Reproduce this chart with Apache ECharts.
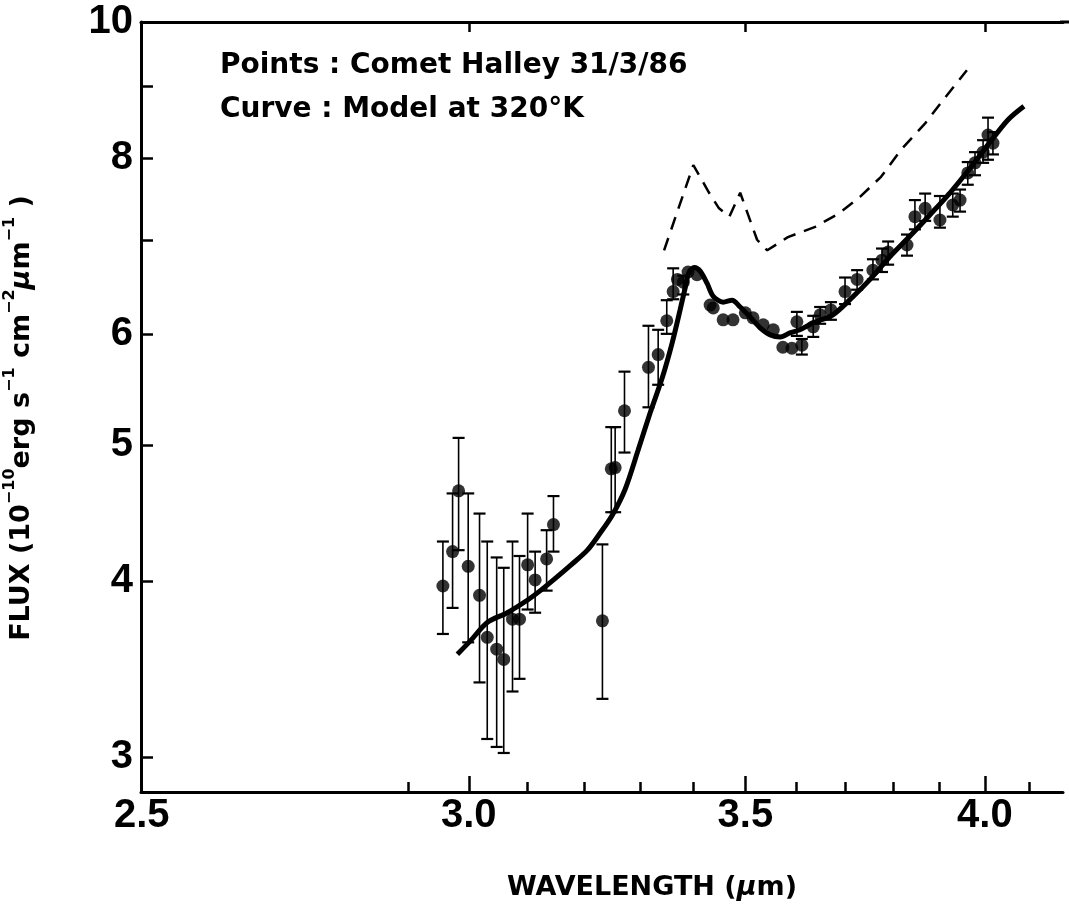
<!DOCTYPE html>
<html>
<head>
<meta charset="utf-8">
<title>Comet Halley 31/3/86</title>
<script src="https://cdn.jsdelivr.net/npm/echarts@6.0.0/dist/echarts.min.js"></script>
<style>
  html, body { margin: 0; padding: 0; background: #fff; }
  #chart { width: 1069px; height: 915px; }
</style>
</head>
<body>
<div id="chart"></div>
<script>
// observed points (wavelength in micron, flux in 1e-10 erg/s/cm2/um)
var ptWl   = [2.957, 2.973, 2.983, 2.999, 3.018, 3.031, 3.047, 3.059, 3.074, 3.086,
              3.100, 3.113, 3.133, 3.145, 3.232, 3.248, 3.255, 3.272, 3.316, 3.334,
              3.350, 3.362, 3.370, 3.381, 3.390, 3.407, 3.432, 3.438, 3.457, 3.476,
              3.500, 3.515, 3.535, 3.555, 3.574, 3.592, 3.612, 3.602, 3.635, 3.649,
              3.671, 3.700, 3.725, 3.758, 3.777, 3.790, 3.830, 3.847, 3.869, 3.901,
              3.929, 3.945, 3.962, 3.978, 3.996, 4.007, 4.018];
var ptFlux = [3.97, 4.20, 4.64, 4.10, 3.91, 3.65, 3.58, 3.52, 3.76, 3.76,
              4.11, 4.01, 4.15, 4.39, 3.75, 4.81, 4.82, 5.29, 5.68, 5.80,
              6.13, 6.43, 6.56, 6.53, 6.64, 6.61, 6.29, 6.26, 6.14, 6.14,
              6.21, 6.16, 6.09, 6.04, 5.87, 5.86, 5.89, 6.12, 6.07, 6.19,
              6.24, 6.43, 6.56, 6.66, 6.77, 6.86, 6.94, 7.27, 7.37, 7.23,
              7.41, 7.47, 7.81, 7.94, 8.08, 8.31, 8.20];
// error bar ends (null = no bar drawn)
var errLo  = [3.67, 3.83, 4.21, 3.62, 3.39, 3.09, 3.05, 3.02, 3.34, 3.41,
              3.82, 3.80, 3.94, 4.20, 3.30, 4.48, 4.48, 4.94, 5.32, 5.52,
              6.00, 6.35, null, 6.40, null, null, null, null, null, null,
              null, null, null, null, null, null, 5.80, 5.98, 5.97, 6.10,
              6.14, 6.30, 6.45, 6.56, 6.64, 6.72, 6.82, 7.12, 7.22, 7.14,
              7.27, 7.33, 7.66, 7.78, 7.94, 7.98, 8.05];
var errHi  = [4.27, 4.62, 5.06, 4.62, 4.47, 4.27, 4.16, 4.09, 4.27, 4.17,
              4.47, 4.20, 4.35, 4.60, 4.25, 5.15, 5.15, 5.64, 6.08, 6.04,
              6.34, 6.68, null, 6.60, null, null, null, null, null, null,
              null, null, null, null, null, null, 5.95, 6.22, 6.18, 6.27,
              6.32, 6.58, 6.66, 6.78, 6.90, 6.98, 7.06, 7.47, 7.55, 7.52,
              7.55, 7.60, 7.95, 8.08, 8.24, 8.55, 8.35];

// model at 320 K (solid curve)
var modelWl   = [2.981, 3.003, 3.031, 3.065, 3.100, 3.122, 3.145, 3.176, 3.205, 3.228,
                 3.250, 3.273, 3.297, 3.319, 3.342, 3.360, 3.375, 3.385, 3.392, 3.402,
                 3.413, 3.426, 3.438, 3.457, 3.474, 3.490, 3.509, 3.529, 3.549, 3.569,
                 3.588, 3.608, 3.635, 3.675, 3.717, 3.752, 3.794, 3.836, 3.879, 3.923,
                 3.967, 4.011, 4.052, 4.088];
var modelFlux = [3.55, 3.63, 3.74, 3.80, 3.88, 3.94, 4.01, 4.11, 4.21, 4.33,
                 4.46, 4.65, 4.96, 5.27, 5.59, 5.91, 6.24, 6.48, 6.64, 6.69,
                 6.65, 6.52, 6.38, 6.32, 6.34, 6.27, 6.17, 6.06, 5.99, 5.97,
                 6.01, 6.04, 6.11, 6.19, 6.38, 6.56, 6.81, 7.04, 7.29, 7.56,
                 7.87, 8.21, 8.52, 8.71];

// dashed curve
var dashWl   = [3.345, 3.400, 3.430, 3.449, 3.469, 3.490, 3.523, 3.543, 3.584, 3.639,
                3.688, 3.731, 3.775, 3.817, 3.869, 3.908, 3.960];
var dashFlux = [6.88, 7.91, 7.56, 7.37, 7.27, 7.56, 7.00, 6.88, 7.03, 7.15,
                7.31, 7.51, 7.76, 8.11, 8.47, 8.80, 9.24];

// axis ticks / labels
var xLabels     = [2.5, 3.0, 3.5, 4.0];
var xMajorTicks = [3.0, 3.5, 4.0];
var xMinorTicks = [2.9, 3.1, 3.2, 3.3, 3.4, 3.6, 3.7, 3.8, 3.9, 4.1];
var yLabels     = [3, 4, 5, 6, 8, 10];
var yTicks      = [3, 4, 5, 6, 7, 8, 9];

var FONT = '"Liberation Sans", Arial, Helvetica, sans-serif';
var WIDE = '"DejaVu Sans", Verdana, sans-serif';
var X_MIN = 2.499, X_MAX = 4.178;

function zip(a, b) {
    var out = [];
    for (var i = 0; i < a.length; i++) out.push([a[i], b[i]]);
    return out;
}

var points = zip(ptWl, ptFlux);
var bars = [];
for (var i = 0; i < ptWl.length; i++) {
    if (errLo[i] != null && errHi[i] != null) bars.push([ptWl[i], errLo[i], errHi[i]]);
}

function renderBar(params, api) {
    var top = api.coord([api.value(0), api.value(2)]);
    var bot = api.coord([api.value(0), api.value(1)]);
    var w = 6;
    return {
        type: 'group',
        children: [
            { type: 'line', shape: { x1: top[0], y1: top[1], x2: bot[0], y2: bot[1] }, style: { stroke: '#000', lineWidth: 1.6 } },
            { type: 'line', shape: { x1: top[0] - w, y1: top[1], x2: top[0] + w, y2: top[1] }, style: { stroke: '#000', lineWidth: 2.2 } },
            { type: 'line', shape: { x1: bot[0] - w, y1: bot[1], x2: bot[0] + w, y2: bot[1] }, style: { stroke: '#000', lineWidth: 2.2 } }
        ]
    };
}

var chart = echarts.init(document.getElementById('chart'), null, { renderer: 'canvas' });

var option = {
    animation: false,
    backgroundColor: '#fff',
    grid: { left: 141, right: 6, top: 22, bottom: 123, outerBoundsMode: 'none' },
    xAxis: [{
        type: 'log', min: X_MIN, max: X_MAX, position: 'bottom',
        axisLine: { show: true, lineStyle: { color: '#000', width: 3 } },
        axisTick: { show: true, inside: true, length: 16, customValues: xMajorTicks, lineStyle: { color: '#000', width: 2.5 } },
        axisLabel: {
            customValues: xLabels, margin: 4,
            formatter: function (v) { return Number(v).toFixed(1); },
            color: '#000', fontSize: 40, fontWeight: 'bold', fontFamily: FONT
        },
        splitLine: { show: false }
    }, {
        type: 'log', min: X_MIN, max: X_MAX, position: 'bottom',
        axisLine: { show: false },
        axisTick: { show: true, inside: true, length: 10, customValues: xMinorTicks, lineStyle: { color: '#000', width: 2.5 } },
        axisLabel: { show: false },
        splitLine: { show: false }
    }, {
        type: 'log', min: X_MIN, max: X_MAX, position: 'top',
        axisLine: { show: true, lineStyle: { color: '#000', width: 3 } },
        axisTick: { show: true, inside: true, length: 10, customValues: xMajorTicks, lineStyle: { color: '#000', width: 2.5 } },
        axisLabel: { show: false },
        splitLine: { show: false }
    }],
    yAxis: {
        type: 'log', min: 2.833, max: 10,
        axisLine: { show: true, lineStyle: { color: '#000', width: 3 } },
        axisTick: { show: true, inside: true, length: 12, customValues: yTicks, lineStyle: { color: '#000', width: 2.5 } },
        axisLabel: {
            customValues: yLabels, margin: 8,
            color: '#000', fontSize: 40, fontWeight: 'bold', fontFamily: FONT
        },
        splitLine: { show: false }
    },
    series: [{
        type: 'custom',
        renderItem: renderBar,
        encode: { x: 0, y: [1, 2] },
        data: bars,
        silent: true,
        z: 2
    }, {
        type: 'scatter',
        data: points,
        symbol: 'circle',
        symbolSize: 13,
        itemStyle: { color: '#000' },
        silent: true,
        z: 3
    }, {
        type: 'line',
        data: zip(modelWl, modelFlux),
        smooth: 0.3,
        showSymbol: false,
        lineStyle: { color: '#000', width: 5 },
        silent: true,
        z: 4
    }, {
        type: 'line',
        data: zip(dashWl, dashFlux),
        showSymbol: false,
        lineStyle: { color: '#000', width: 2.5, type: [13, 9] },
        silent: true,
        z: 4
    }],
    graphic: [{
        // top frame line runs on to the right edge
        type: 'line', shape: { x1: 1060, y1: 22, x2: 1069, y2: 22 },
        style: { stroke: '#000', lineWidth: 3 }
    }, {
        type: 'text', x: 220, y: 66,
        style: {
            text: 'Points : Comet Halley 31/3/86',
            fontSize: 28, fontWeight: 'bold', fontFamily: WIDE,
            fill: '#000', align: 'left', verticalAlign: 'middle'
        }
    }, {
        type: 'text', x: 220, y: 110,
        style: {
            text: 'Curve : Model at 320°K',
            fontSize: 28, fontWeight: 'bold', fontFamily: WIDE,
            fill: '#000', align: 'left', verticalAlign: 'middle'
        }
    }, {
        type: 'text', x: 652, y: 888,
        style: {
            text: 'WAVELENGTH ({mu|μ}m)',
            fontSize: 27, fontWeight: 'bold', fontFamily: WIDE,
            fill: '#000', align: 'center', verticalAlign: 'middle',
            rich: {
                mu: { fontSize: 27, fontWeight: 'bold', fontStyle: 'italic', fontFamily: WIDE, fill: '#000' }
            }
        }
    }, {
        type: 'text', x: 22, y: 418, rotation: Math.PI / 2,
        style: {
            text: 'FLUX (10{sup|−10}erg s{sup|−1} cm{sup|−2}{mu|μ}m{sup|−1} )',
            fontSize: 27, fontWeight: 'bold', fontFamily: WIDE,
            fill: '#000', align: 'center', verticalAlign: 'middle', lineHeight: 40,
            rich: {
                sup: { fontSize: 16, fontWeight: 'bold', fontFamily: WIDE, fill: '#000', verticalAlign: 'top', lineHeight: 20 },
                mu: { fontSize: 27, fontWeight: 'bold', fontStyle: 'italic', fontFamily: WIDE, fill: '#000', lineHeight: 40 }
            }
        }
    }]
};

chart.setOption(option);
</script>
</body>
</html>
